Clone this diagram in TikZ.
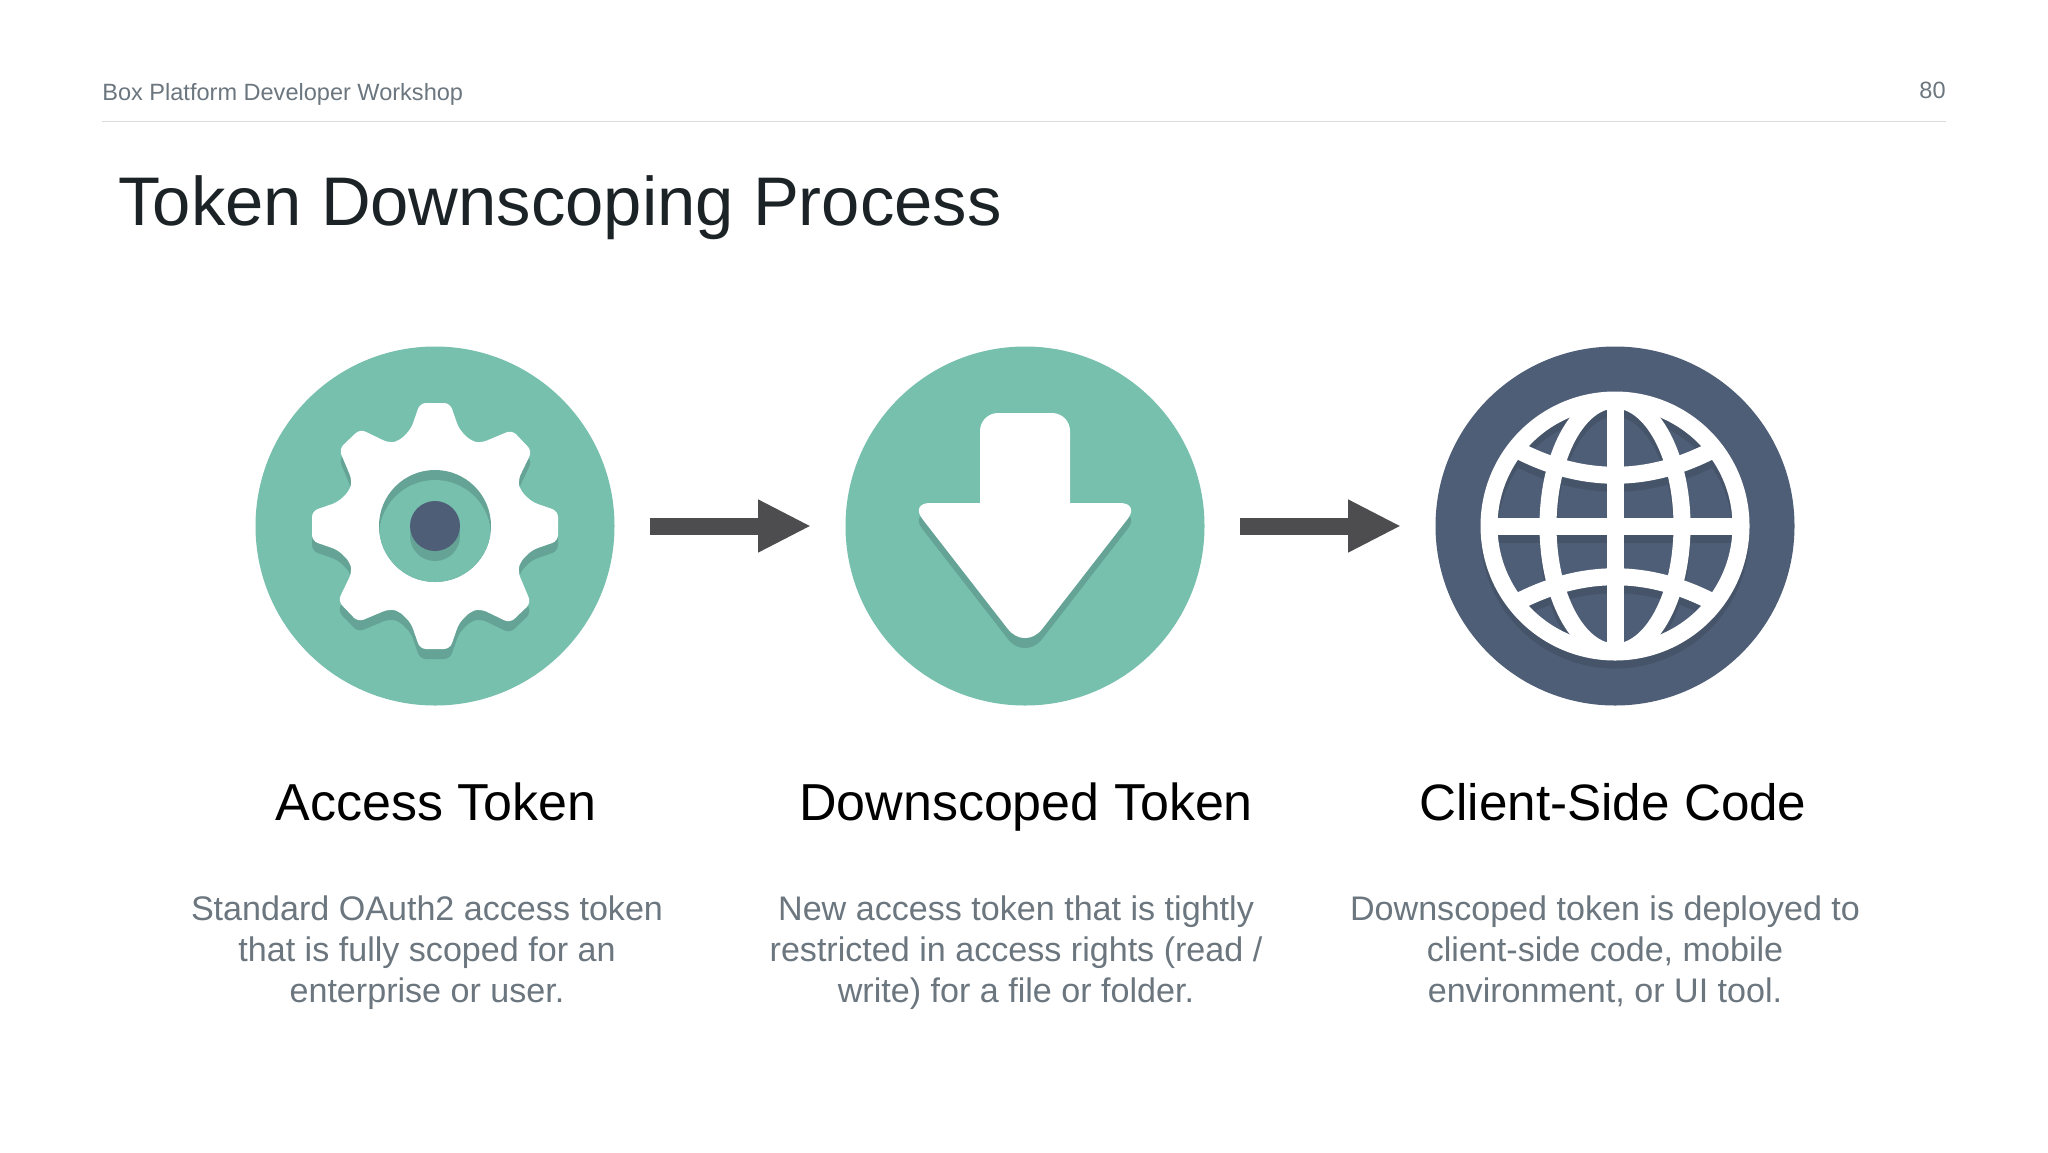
\documentclass[tikz,border=0pt]{standalone}
\usepackage{fontspec}
\setmainfont{Liberation Sans}
\usetikzlibrary{arrows.meta}
\definecolor{teal}{HTML}{76C0AD}
\definecolor{tealdark}{HTML}{64A395}
\definecolor{navy}{HTML}{4F5E77}
\definecolor{navydark}{HTML}{465469}
\definecolor{arrowgrey}{HTML}{4D4D4F}
\definecolor{bodygrey}{HTML}{6B767F}
\definecolor{rulegrey}{HTML}{D9DCDD}
\definecolor{titleink}{HTML}{1C2326}
\tikzset{
  x=0.5pt,y=-0.5pt,
  badge/.style={circle,inner sep=0pt,minimum size=179.5pt,fill=#1},
  blockarrow/.style={draw=arrowgrey,line width=8.5pt,shorten <=17.7pt,shorten >=17pt,
    -{Triangle[length=26.5pt,width=24.5pt,fill=arrowgrey]}},
  heading/.style={font=\fontsize{26}{30}\selectfont,text=black,anchor=base,inner sep=0pt},
  bodytext/.style={font=\fontsize{17.05}{20.5}\selectfont,text=bodygrey,align=center,anchor=north,inner sep=0pt},
  globeline/.style={draw=#1,line width=8.5pt},
}
\newcommand{\gq}[1]{([rotate=#1]-15,-123) -- ([rotate=#1]15,-123) -- ([rotate=#1]24,-97) -- ([rotate=#1]36,-85) -- ([rotate=#1]46,-83) -- ([rotate=#1]77,-96) -- ([rotate=#1]97,-75) -- ([rotate=#1]83,-46) -- ([rotate=#1]85,-36) -- ([rotate=#1]97,-24) -- }
\newcommand{\gearoutline}{\gq{0}\gq{-90}\gq{-180}\gq{-270} cycle}
\newcommand{\globelines}[1]{%
  \draw[globeline=#1] (0,0) circle [radius=126];
  \begin{scope}
    \clip (0,0) circle [radius=126];
    \draw[globeline=#1] (-126,0) -- (126,0);
    \draw[globeline=#1] (0,-126) -- (0,126);
    \draw[globeline=#1] (0,0) ellipse [x radius=67,y radius=126];
    \draw[globeline=#1] (-105,-80) .. controls (-35,-41) and (35,-41) .. (105,-80);
    \draw[globeline=#1] (-105,80) .. controls (-35,41) and (35,41) .. (105,80);
  \end{scope}}
\begin{document}
\begin{tikzpicture}
\useasboundingbox (0,0) rectangle (2048,1152);
\fill[white] (0,0) rectangle (2048,1152);
% header
\node[anchor=base west,inner sep=0pt,font=\fontsize{11.77}{14}\selectfont,text=bodygrey] (hdr) at (102,100) {Box Platform Developer Workshop};
\node[anchor=base east,inner sep=0pt,font=\fontsize{11.77}{14}\selectfont,text=bodygrey] (pg) at (1946,98) {80};
\coordinate (ruleL) at (102,121.5);
\coordinate (ruleR) at (1946,121.5);
\draw[rulegrey,line width=0.8pt] (ruleL) -- (ruleR);
\node[anchor=base west,inner sep=0pt,font=\fontsize{34.4}{40}\selectfont,text=titleink] (title) at (118,225) {Token Downscoping Process};
% badges
\node[badge=teal] (gear) at (435,526) {};
\node[badge=teal] (down) at (1025,526) {};
\node[badge=navy] (globe) at (1615,526) {};
\draw[blockarrow] (gear.east) -- (down.west);
\draw[blockarrow] (down.east) -- (globe.west);
% gear icon
\begin{scope}[shift={(gear.center)}]
  \fill[tealdark,rounded corners=3pt,shift={(0,10)}] \gearoutline;
  \fill[white,rounded corners=3pt] \gearoutline;
  \fill[tealdark] (0,0) circle [radius=56];
  \begin{scope}
    \clip (0,0) circle [radius=56];
    \fill[teal] (0,10) circle [radius=56];
    \fill[tealdark] (0,10) circle [radius=25];
  \end{scope}
  \fill[navy] (0,0) circle [radius=25];
\end{scope}
% down arrow icon
\begin{scope}[shift={(down.center)}]
  \fill[tealdark,shift={(0,10)}] (-45,-23) [rounded corners=9pt] -- (-45,-113) -- (45,-113) [sharp corners] -- (45,-23) [rounded corners=10pt] -- (115,-23) [rounded corners=14pt] -- (0,125) [rounded corners=10pt] -- (-115,-23) [sharp corners] -- cycle;
  \fill[white] (-45,-23) [rounded corners=9pt] -- (-45,-113) -- (45,-113) [sharp corners] -- (45,-23) [rounded corners=10pt] -- (115,-23) [rounded corners=14pt] -- (0,125) [rounded corners=10pt] -- (-115,-23) [sharp corners] -- cycle;
\end{scope}
% globe icon
\begin{scope}[shift={(globe.center)}]
  \begin{scope}[shift={(0,8)}]\globelines{navydark}\end{scope}
  \globelines{white}
\end{scope}
% labels
\node[heading] (h1) at (436,820) {Access Token};
\node[heading] (h2) at (1026,820) {Downscoped Token};
\node[heading,font=\fontsize{25.6}{30}\selectfont] (h3) at (1613,820) {Client-Side Code};
\node[bodytext] (b1) at (427,895.5) {Standard OAuth2 access token\\that is fully scoped for an\\enterprise or user.};
\node[bodytext] (b2) at (1016,895.5) {New access token that is tightly\\restricted in access rights (read /\\write) for a file or folder.};
\node[bodytext] (b3) at (1605,895.5) {Downscoped token is deployed to\\client-side code, mobile\\environment, or UI tool.};
\end{tikzpicture}
\end{document}
